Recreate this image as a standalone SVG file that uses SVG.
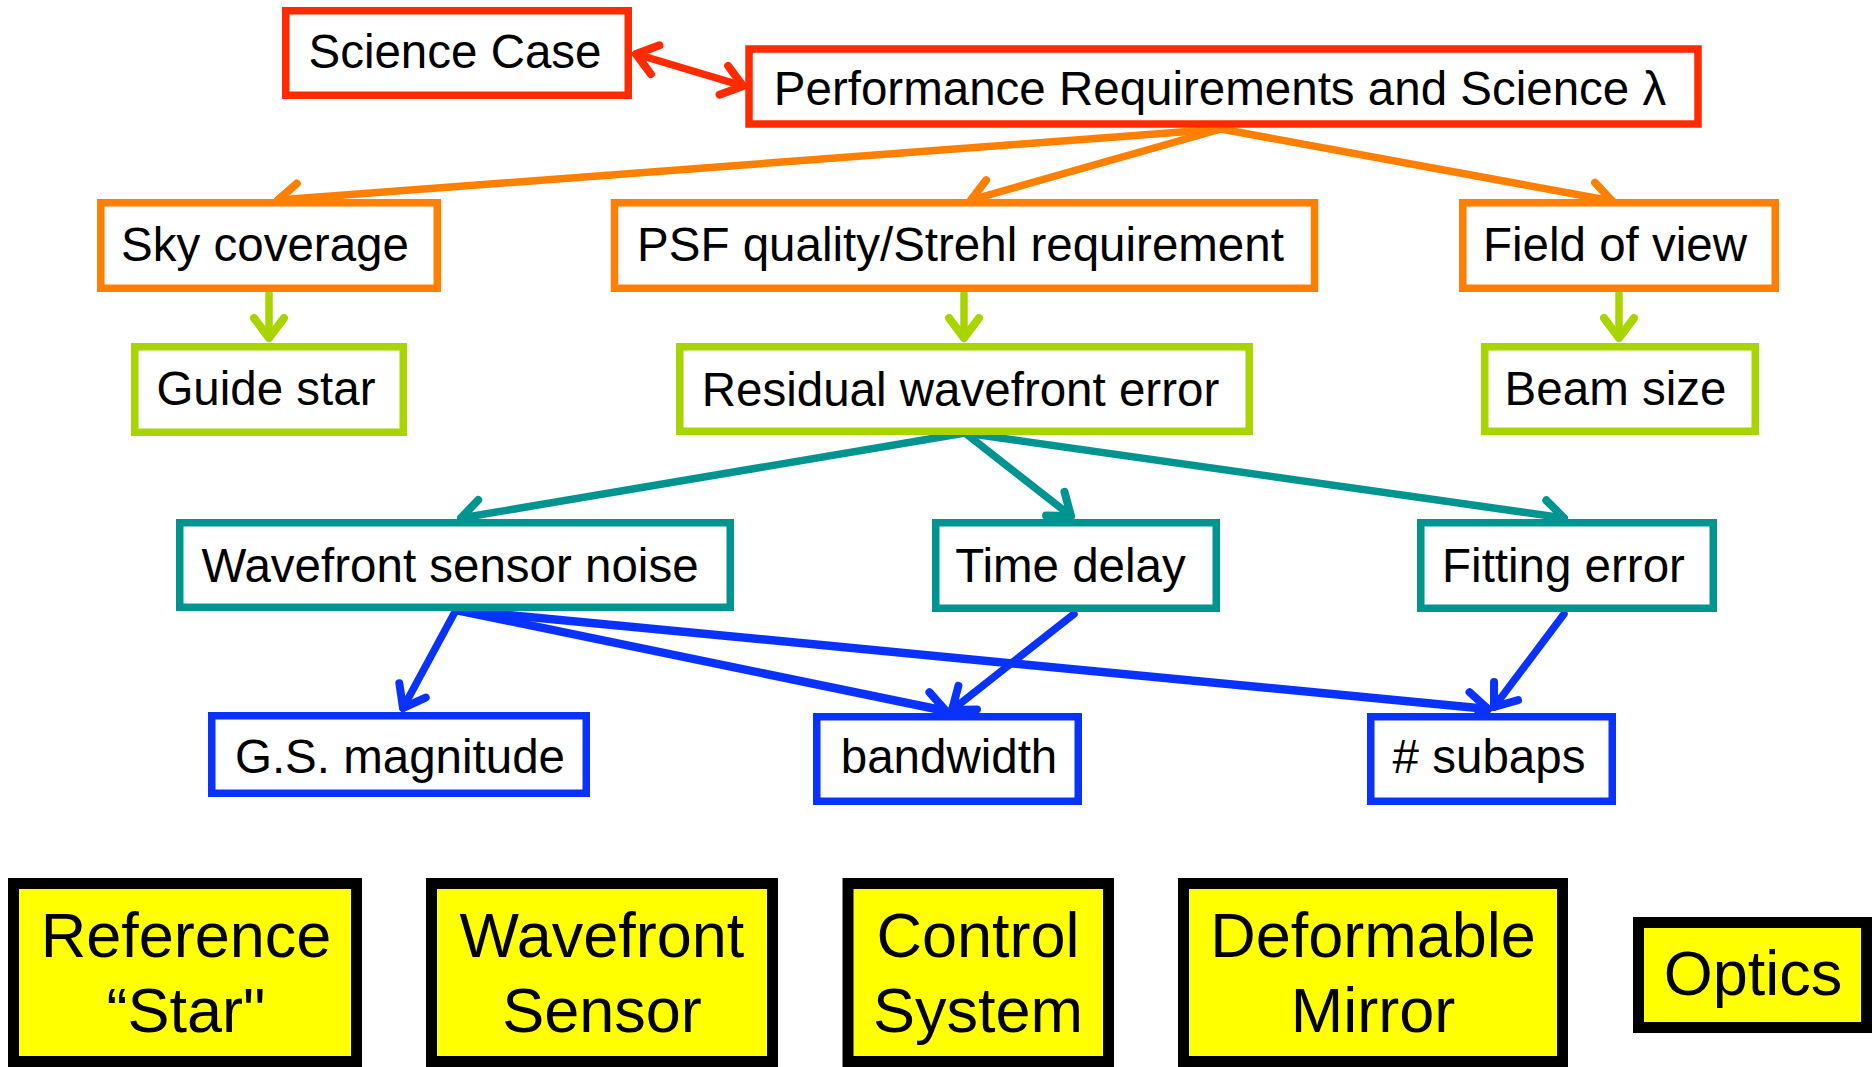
<svg xmlns="http://www.w3.org/2000/svg" width="1875" height="1067" viewBox="0 0 1875 1067">
<style>
.box{fill:#ffffff;stroke-width:7.5}
.r{stroke:#ff2a00}.o{stroke:#ff7f00}.g{stroke:#a8d400}.t{stroke:#009490}.b{stroke:#0a32ff}
.yb{fill:#ffff00;stroke:#000000;stroke-width:11}
.lbl{font-family:"Liberation Sans",Arial,sans-serif;font-size:47.5px;fill:#000000;text-anchor:middle}
.big{font-family:"Liberation Sans",Arial,sans-serif;font-size:63px;fill:#000000;text-anchor:middle}
.c{fill:none;stroke-width:7.5;stroke-linecap:round}
.hd{fill:none;stroke-width:8;stroke-linecap:round;stroke-linejoin:round}
</style>
<defs>
<marker id="mr" markerUnits="userSpaceOnUse" orient="auto-start-reverse" refX="0" refY="0" markerWidth="60" markerHeight="60" viewBox="-30 -30 60 60" overflow="visible"><path class="hd r" d="M -20 -15 L 0 0 L -20 15"/></marker>
<marker id="mo" markerUnits="userSpaceOnUse" orient="auto" refX="0" refY="0" markerWidth="60" markerHeight="60" viewBox="-30 -30 60 60" overflow="visible"><path class="hd o" d="M -20 -15 L 0 0 L -20 15"/></marker>
<marker id="mg" markerUnits="userSpaceOnUse" orient="auto" refX="0" refY="0" markerWidth="60" markerHeight="60" viewBox="-30 -30 60 60" overflow="visible"><path class="hd g" d="M -20 -15 L 0 0 L -20 15"/></marker>
<marker id="mt" markerUnits="userSpaceOnUse" orient="auto" refX="0" refY="0" markerWidth="60" markerHeight="60" viewBox="-30 -30 60 60" overflow="visible"><path class="hd t" d="M -20 -15 L 0 0 L -20 15"/></marker>
<marker id="mb" markerUnits="userSpaceOnUse" orient="auto" refX="0" refY="0" markerWidth="60" markerHeight="60" viewBox="-30 -30 60 60" overflow="visible"><path class="hd b" d="M -20 -15 L 0 0 L -20 15"/></marker>
</defs>
<rect x="0" y="0" width="1875" height="1067" fill="#ffffff"/>

<g id="connectors">
<line class="c r" x1="636" y1="54" x2="743" y2="86" marker-start="url(#mr)" marker-end="url(#mr)"/>
<line class="c o" x1="1221" y1="129" x2="278" y2="200" marker-end="url(#mo)"/>
<line class="c o" x1="1221" y1="129" x2="971" y2="200" marker-end="url(#mo)"/>
<line class="c o" x1="1221" y1="129" x2="1612" y2="201" marker-end="url(#mo)"/>
<line class="c g" x1="269" y1="294" x2="269" y2="338" marker-end="url(#mg)"/>
<line class="c g" x1="964" y1="294" x2="964" y2="338" marker-end="url(#mg)"/>
<line class="c g" x1="1619" y1="294" x2="1619" y2="338" marker-end="url(#mg)"/>
<line class="c t" x1="965" y1="433" x2="461" y2="518" marker-end="url(#mt)"/>
<line class="c t" x1="965" y1="433" x2="1071" y2="516" marker-end="url(#mt)"/>
<line class="c t" x1="965" y1="433" x2="1564" y2="518" marker-end="url(#mt)"/>
<line class="c b" x1="456" y1="610" x2="403" y2="708" marker-end="url(#mb)"/>
<line class="c b" x1="456" y1="610" x2="946" y2="711" marker-end="url(#mb)" style="stroke-width:8.5"/>
<line class="c b" x1="456" y1="610" x2="1488" y2="709" marker-end="url(#mb)" style="stroke-width:8.5"/>
<line class="c b" x1="1074" y1="614" x2="952" y2="710" marker-end="url(#mb)"/>
<line class="c b" x1="1564" y1="614" x2="1494" y2="707" marker-end="url(#mb)"/>
</g>

<g id="science-case"><rect class="box r" x="285.75" y="10.75" width="342.5" height="84.5"/><text class="lbl" x="455" y="68">Science Case</text></g>
<g id="performance"><rect class="box r" x="749" y="49" width="949" height="75"/><text class="lbl" x="1220" y="105">Performance Requirements and Science λ</text></g>

<g id="sky-coverage"><rect class="box o" x="100.75" y="202.75" width="336.5" height="85.5"/><text class="lbl" x="265" y="261">Sky coverage</text></g>
<g id="psf-quality"><rect class="box o" x="614.5" y="202.75" width="700" height="85.5"/><text class="lbl" x="960.5" y="261">PSF quality/Strehl requirement</text></g>
<g id="field-of-view"><rect class="box o" x="1462.75" y="202.75" width="312.5" height="85.5"/><text class="lbl" x="1615" y="261">Field of view</text></g>

<g id="guide-star"><rect class="box g" x="134.75" y="346.75" width="268.5" height="85.5"/><text class="lbl" x="266" y="405">Guide star</text></g>
<g id="residual-wavefront-error"><rect class="box g" x="679.75" y="346.75" width="569.5" height="84.5"/><text class="lbl" x="960.5" y="406">Residual wavefront error</text></g>
<g id="beam-size"><rect class="box g" x="1484.75" y="346.75" width="270.5" height="84.5"/><text class="lbl" x="1615.5" y="405">Beam size</text></g>

<g id="wfs-noise"><rect class="box t" x="179.75" y="522.75" width="550.5" height="84.5"/><text class="lbl" x="450" y="582">Wavefront sensor noise</text></g>
<g id="time-delay"><rect class="box t" x="935.75" y="522.75" width="280.5" height="85.5"/><text class="lbl" x="1070.5" y="582">Time delay</text></g>
<g id="fitting-error"><rect class="box t" x="1420.75" y="522.75" width="292.5" height="85.5"/><text class="lbl" x="1563.5" y="582">Fitting error</text></g>

<g id="gs-magnitude"><rect class="box b" x="211.75" y="715.75" width="374.5" height="77.5"/><text class="lbl" x="400" y="773">G.S. magnitude</text></g>
<g id="bandwidth"><rect class="box b" x="816.75" y="716.75" width="261.5" height="84.5"/><text class="lbl" x="949" y="773">bandwidth</text></g>
<g id="subaps"><rect class="box b" x="1370.75" y="716.75" width="241.5" height="84.5"/><text class="lbl" x="1489" y="773"># subaps</text></g>

<g id="reference-star"><rect class="yb" x="13.5" y="883.5" width="343" height="178"/><text class="big" x="186" y="957">Reference</text><text class="big" x="186" y="1032">“Star"</text></g>
<g id="wavefront-sensor"><rect class="yb" x="431.5" y="883.5" width="341" height="178"/><text class="big" x="602" y="957">Wavefront</text><text class="big" x="602" y="1032">Sensor</text></g>
<g id="control-system"><rect class="yb" x="848" y="883.5" width="260.5" height="178"/><text class="big" x="978" y="957">Control</text><text class="big" x="978" y="1032">System</text></g>
<g id="deformable-mirror"><rect class="yb" x="1183.5" y="883.5" width="379" height="178"/><text class="big" x="1373" y="957">Deformable</text><text class="big" x="1373" y="1032">Mirror</text></g>
<g id="optics"><rect class="yb" x="1638.5" y="922.5" width="228" height="105"/><text class="big" x="1753" y="995">Optics</text></g>
</svg>
